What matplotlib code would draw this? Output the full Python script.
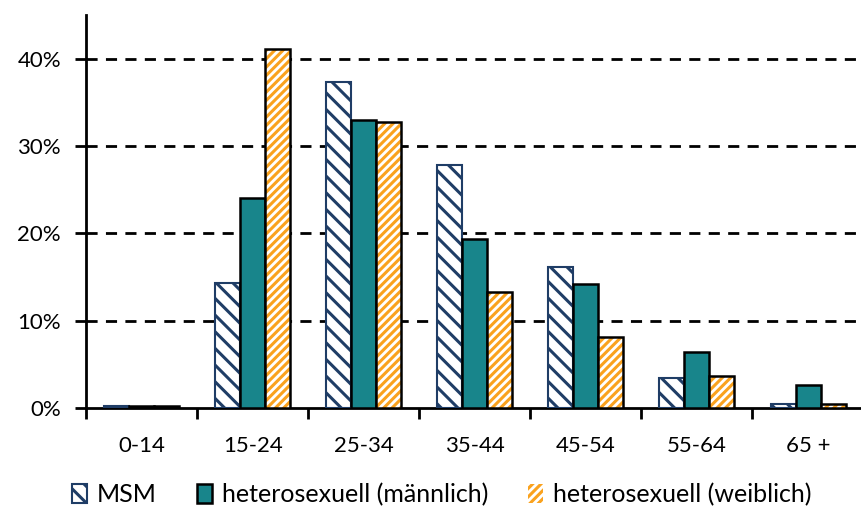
import matplotlib.pyplot as plt
import numpy as np

# Altersgruppen und Anteile (%)
categories = ['0-14', '15-24', '25-34', '35-44', '45-54', '55-64', '65 +']
msm = [0.2, 14.3, 37.3, 27.8, 16.1, 3.4, 0.5]
hetero_m = [0.2, 24.0, 33.0, 19.4, 14.2, 6.4, 2.6]
hetero_w = [0.2, 41.1, 32.7, 13.3, 8.1, 3.7, 0.4]
yticks = [0, 10, 20, 30, 40]

navy = '#1F3D66'
teal = '#18858B'
orange = '#FAA21E'

plt.rcParams['font.family'] = ['Lato', 'DejaVu Sans']
plt.rcParams['hatch.linewidth'] = 2.2

fig = plt.figure(figsize=(8.62, 5.11), dpi=100)
ax = fig.add_axes([0.0998, 0.2016, 0.902, 0.769])

x = np.arange(len(categories))
w = 0.225

# MSM: weiss mit blauer Schraffur
b1 = ax.bar(x - w, msm, w, color='white', edgecolor=navy, hatch='\\\\', linewidth=1.5, zorder=3)
# heterosexuell maennlich
b2 = ax.bar(x, hetero_m, w, color=teal, edgecolor='black', linewidth=1.8, zorder=3)
# heterosexuell weiblich: orange Schraffur, schwarzer Rand
b3 = ax.bar(x + w, hetero_w, w, color='white', edgecolor=orange, hatch='////', linewidth=0, zorder=3)
ax.bar(x + w, hetero_w, w, color='none', edgecolor='black', linewidth=1.8, zorder=4)

ax.set_xlim(-0.5, len(categories) - 0.5)
ax.set_ylim(0, 45)
ax.set_yticks(yticks)
ax.set_yticklabels([f'{t}%' for t in yticks])
ax.set_xticks(x)
ax.set_xticklabels(categories)
ax.set_xticks(np.arange(len(categories) + 1) - 0.5, minor=True)
ax.tick_params(axis='x', which='major', length=0, pad=20, labelsize=16)
ax.tick_params(axis='x', which='minor', length=8, width=2, direction='out')
ax.tick_params(axis='y', length=8, width=2, direction='out', pad=10, labelsize=16)

for v in yticks[1:]:
    ax.axhline(v, color='black', linestyle=(0, (4, 3)), linewidth=2, zorder=1)

for s in ['top', 'right']:
    ax.spines[s].set_visible(False)
ax.spines['left'].set_linewidth(2)
ax.spines['bottom'].set_linewidth(2)

leg = fig.legend([b1, b2, b3], ['MSM', 'heterosexuell (männlich)', 'heterosexuell (weiblich)'],
                 loc='center left', bbox_to_anchor=(0.072, 0.032), ncol=3, frameon=False,
                 fontsize=18, handlelength=0.6, handleheight=0.75, handletextpad=0.4,
                 columnspacing=1.6, borderaxespad=0)

fig.savefig('out.png', dpi=100)
